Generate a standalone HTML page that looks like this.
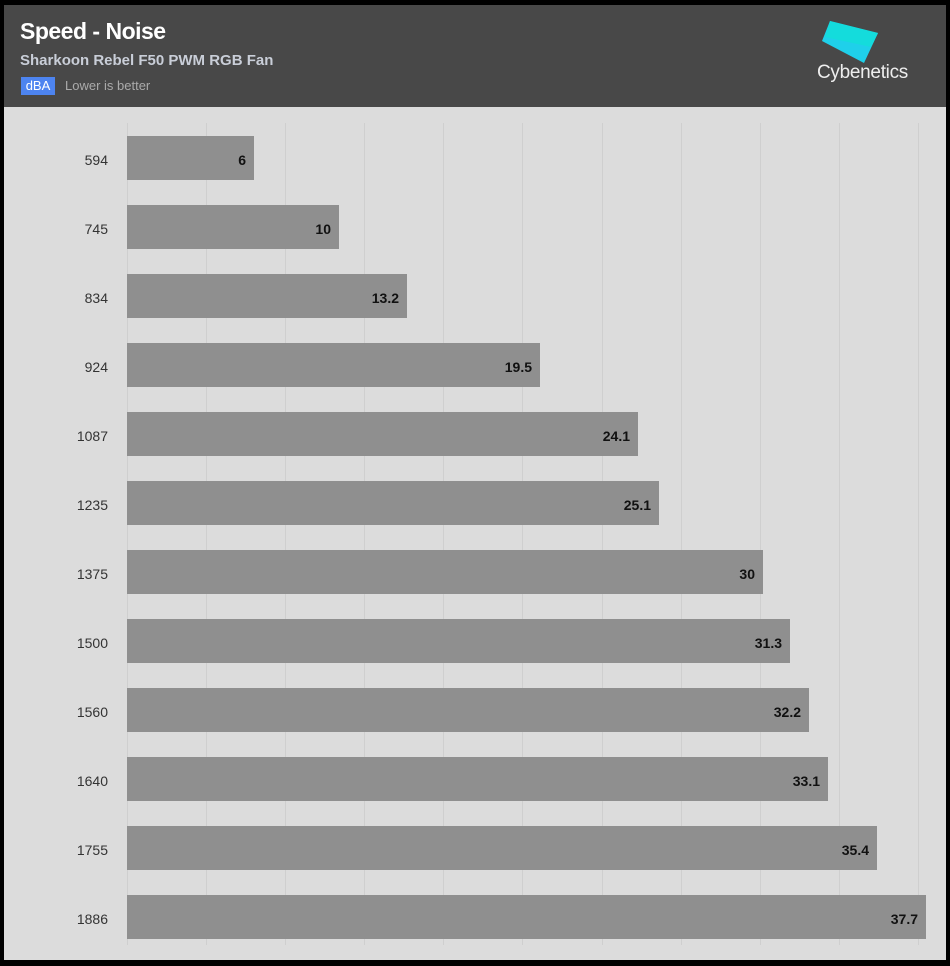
<!DOCTYPE html>
<html><head><meta charset="utf-8"><style>
body{margin:0;width:950px;height:966px;background:#000;position:relative;overflow:hidden;font-family:"Liberation Sans",sans-serif}
#hd{position:absolute;left:4px;top:5px;width:942px;height:102px;background:#484848}
#pl{position:absolute;left:4px;top:107px;width:942px;height:853px;background:#dcdcdc}
.t{position:absolute;white-space:nowrap}
.g{position:absolute;top:123px;height:822px;width:1px;background:#cfcfcf}
.b{position:absolute;left:127px;height:44px;background:#8f8f8f}
.v{position:absolute;right:8px;top:16px;font-weight:bold;font-size:14px;color:#111}
.l{position:absolute;width:80px;left:28px;text-align:right;font-size:14px;color:#333}
</style></head><body>
<div id="hd"></div><div id="pl"></div>
<div class="t" style="left:20px;top:18px;font-size:23px;font-weight:bold;color:#fff;letter-spacing:-0.5px">Speed - Noise</div>
<div class="t" style="left:20px;top:52px;font-size:15px;font-weight:bold;color:#c9ced8">Sharkoon Rebel F50 PWM RGB Fan</div>
<div class="t" style="left:21px;top:77px;width:34px;height:18px;background:#4d84f0;color:#fff;font-size:13px;text-align:center;line-height:18px">dBA</div>
<div class="t" style="left:65px;top:78px;font-size:13px;color:#aaa">Lower is better</div>
<svg style="position:absolute;left:820px;top:21px" width="60" height="42"><polygon points="10,0 58,12 44,42 2,20" fill="#1fd0ea"/><polygon points="10,0 58,12 51,26 5,16" fill="#14dcdc"/></svg>
<div class="t" style="left:817px;top:62px;font-size:19px;color:#eee;letter-spacing:-0.3px">Cybenetics</div>
<div id="grid"></div>
<script>
var xs=[127,206,285,364,443,522,602,681,760,839,918],h='';
xs.forEach(function(x){h+='<div class="g" style="left:'+x+'px"></div>'});
var d=[[594,6],[745,10],[834,13.2],[924,19.5],[1087,24.1],[1235,25.1],[1375,30],[1500,31.3],[1560,32.2],[1640,33.1],[1755,35.4],[1886,37.7]];
d.forEach(function(r,i){var y=136+69*i;h+='<div class="l" style="top:'+(y+16)+'px">'+r[0]+'</div><div class="b" style="top:'+y+'px;width:'+Math.round(r[1]*21.19)+'px"><span class="v">'+r[1]+'</span></div>'});
document.getElementById('grid').innerHTML=h;
</script>
</body></html>
